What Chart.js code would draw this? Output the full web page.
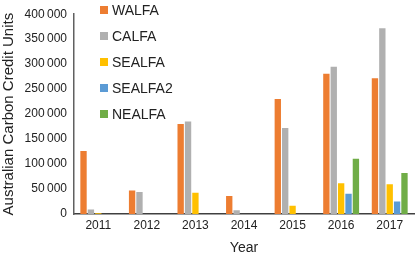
<!DOCTYPE html>
<html>
<head>
<meta charset="utf-8">
<script src="https://cdn.jsdelivr.net/npm/chart.js@4/dist/chart.umd.min.js"></script>
<style>
	body { margin: 0; background: #fff; }
	#wrap { position: relative; width: 415px; height: 253px; }
	#legend { position: absolute; left: 100px; top: 0; font-family: "Liberation Sans", Arial, sans-serif; font-size: 14px; color: #222; }
	.item { position: absolute; left: 0; height: 16px; line-height: 16px; white-space: nowrap; }
	.box { position: absolute; left: 0; top: 4px; width: 8px; height: 8px; }
	.lbl { position: absolute; left: 12px; top: 0; }
</style>
</head>
<body>
<div id="wrap">
	<canvas id="carbonChart" width="415" height="253"></canvas>
	<div id="legend"></div>
</div>
<script>

var years = ['2011', '2012', '2013', '2014', '2015', '2016', '2017'];
var seriesNames = ['WALFA', 'CALFA', 'SEALFA', 'SEALFA2', 'NEALFA'];
var colors = ['#ED7D31', '#B0B0B0', '#FFC000', '#5B9BD5', '#70AD47'];

var walfa = [126000, 47000, 180000, 36000, 230000, 281000, 272000];
var calfa = [9000, 44000, 185000, 7500, 172000, 295000, 372000];
var sealfa = [1500, 0, 42500, 0, 16500, 61500, 59500];
var sealfa2 = [0, 0, 0, 0, 0, 40500, 25000];
var nealfa = [0, 0, 0, 0, 0, 110500, 82000];

var yTicks = [0, 50000, 100000, 150000, 200000, 250000, 300000, 350000, 400000];

var values = [walfa, calfa, sealfa, sealfa2, nealfa];
var font = "'Liberation Sans', Arial, sans-serif";

var datasets = [];
for ( var i = 0; i < seriesNames.length; i++ ) {
	datasets.push({
		label: seriesNames[i],
		data: values[i],
		backgroundColor: colors[i],
		categoryPercentage: 0.76,
		barPercentage: 0.86
	});
}

// legend as plain html, one row per series
var legend = document.getElementById('legend');
for ( var j = 0; j < seriesNames.length; j++ ) {
	var row = document.createElement('div');
	row.className = 'item';
	row.style.top = (2 + j * 26) + 'px';
	row.innerHTML = '<span class="box" style="background:' + colors[j] + '"></span><span class="lbl">' + seriesNames[j] + '</span>';
	legend.appendChild(row);
}

function thin(v) {
	var s = String(v);
	if (s.length > 3) s = s.slice(0, s.length - 3) + '\u2009' + s.slice(s.length - 3);
	return s;
}

var ctx = document.getElementById('carbonChart');

var carbonChart = new Chart(ctx, {
	type: 'bar',
	data: { labels: years, datasets: datasets },
	options: {
		responsive: false,
		animation: false,
		layout: { padding: { top: 4, right: 1, left: 0, bottom: 0 } },
		plugins: { legend: { display: false }, tooltip: { enabled: false } },
		scales: {
			x: {
				grid: { display: false, drawTicks: false },
				border: { color: '#404040', width: 1.5 },
				ticks: { color: '#222', font: { family: font, size: 12 }, padding: 4 },
				title: { display: true, text: 'Year', color: '#222', font: { family: font, size: 14 }, padding: { top: 0, bottom: -4 } },
				afterFit: function(scale) { scale.height = 39; }
			},
			y: {
				min: 0,
				max: 400000,
				grid: { display: false, drawTicks: false },
				border: { color: '#606060', width: 1.5 },
				afterBuildTicks: function(scale) {
					scale.ticks = yTicks.map(function(v) { return { value: v }; });
				},
				ticks: {
					color: '#222',
					font: { family: font, size: 12 },
					padding: 7,
					callback: function(v) { return thin(v); }
				},
				title: { display: true, text: 'Australian Carbon Credit Units', color: '#222', font: { family: font, size: 15 }, padding: 0 },
				afterFit: function(scale) { scale.width = 74; }
			}
		}
	}
});
</script>
</body>
</html>
